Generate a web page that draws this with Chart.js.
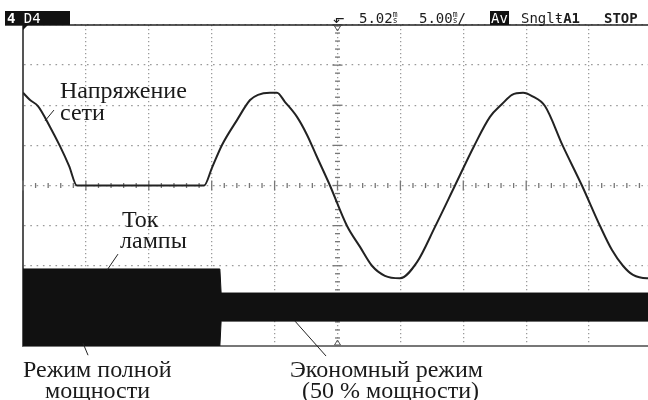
<!DOCTYPE html>
<html>
<head>
<meta charset="utf-8">
<script src="https://cdn.jsdelivr.net/npm/chart.js@4/dist/chart.umd.min.js"></script>
<style>
  html, body { margin: 0; padding: 0; background: #fff; overflow: hidden; }
  #wrap { position: relative; width: 660px; height: 400px; }
  #wrap canvas { position: absolute; left: 0; top: 0; }
  .hd { position: absolute; top: 11px; font-family: "DejaVu Sans Mono", monospace; font-size: 14px; line-height: 14px; color: #1c1c1c; white-space: nowrap; }
  .hd b { font-weight: bold; }
  .box { background: #111; color: #fff; padding: 0 2px; }
  .stk { display: inline-block; font-size: 8px; line-height: 6px; vertical-align: top; text-align: center; margin-top: 1px; }
  .note { position: absolute; font-family: "Liberation Serif", "Times New Roman", serif; font-size: 24px; line-height: 24px; color: #1a1a1a; white-space: nowrap; }
</style>
</head>
<body>
<div id="wrap">
  <canvas id="scope"></canvas>

  <div class="hd box" style="left:5px; width:61px; height:14px;"><b>4</b> D4</div>
  <div class="hd" style="left:333px;">&#x2B10;</div>
  <div class="hd" style="left:359px;">5.02<span class="stk">m<br>s</span></div>
  <div class="hd" style="left:419px;">5.00<span class="stk">m<br>s</span>/</div>
  <div class="hd box" style="left:490px; padding:0 1px;">Av</div>
  <div class="hd" style="left:521px;">Sngl&#x0167;<b>A1</b></div>
  <div class="hd" style="left:604px;"><b>STOP</b></div>

  <div class="note" style="left:60px; top:78px;">Напряжение</div>
  <div class="note" style="left:60px; top:100px;">сети</div>
  <div class="note" style="left:122px; top:207px;">Ток</div>
  <div class="note" style="left:120px; top:228px;">лампы</div>
  <div class="note" style="left:23px; top:357px;">Режим полной</div>
  <div class="note" style="left:45px; top:378px;">мощности</div>
  <div class="note" style="left:290px; top:357px;">Экономный режим</div>
  <div class="note" style="left:302px; top:378px;">(50 % мощности)</div>
</div>

<script>
// Осциллограмма: напряжение сети и ток лампы (5 мс/дел, 10 делений по X, 8 по Y).
const voltMs = [0, 0.56, 1.19, 2.15, 2.94, 3.66, 4.29, 14.39, 15.02, 15.82, 17.01, 18.05, 18.68, 19.63,
  20.19, 20.83, 21.78, 22.58, 23.37, 24.4, 25.76, 26.79, 27.74, 28.77, 29.97, 31.32, 32.75, 34.34,
  35.85, 37.12, 38.08, 38.87, 39.75, 40.46, 41.49, 42.92, 44.43, 45.87, 46.82, 47.69, 48.49, 49.6, 50];
const voltDiv = [2.31, 2.13, 1.98, 1.46, 0.98, 0.49, 0, 0, 0.44, 1.01, 1.63, 2.13, 2.26, 2.31,
  2.31, 2.08, 1.71, 1.26, 0.71, 0, -1.01, -1.53, -2.0, -2.25, -2.31, -1.91, -1.03, 0,
  0.98, 1.71, 2.03, 2.26, 2.31, 2.23, 1.98, 0.98, 0, -1.01, -1.61, -2.0, -2.23, -2.31, -2.31];

// Ток лампы: огибающая (полная мощность, затем экономный режим).
const currentMs = [0, 15.65, 15.75, 50];
const currentTop = [-2.08, -2.08, -2.68, -2.68];
const currentBottom = [-4, -4, -3.38, -3.38];

// Выноски подписей (в единицах осей).
const leaderMs = [[1.75, 2.46], [6.68, 7.55], [4.77, 5.17], [21.62, 24.09]];
const leaderDiv = [[1.61, 1.88], [-2.11, -1.71], [-3.93, -4.23], [-3.38, -4.25]];

function pairs(xs, ys) {
  return xs.map((x, i) => ({ x: x, y: ys[i] }));
}

const scopeDecor = {
  id: 'scopeDecor',
  beforeDatasetsDraw(chart) {
    const xs = chart.scales.x;
    const ys = chart.scales.y;
    const ctx = chart.ctx;
    const cx = xs.getPixelForValue(25);
    const cy = ys.getPixelForValue(0);

    ctx.save();
    ctx.strokeStyle = '#777';
    ctx.lineWidth = 1.3;

    // Метки на центральной вертикали
    for (let i = -20; i <= 20; i++) {
      const y = ys.getPixelForValue(i / 5);
      const h = i % 5 === 0 ? 5 : 2.5;
      ctx.beginPath();
      ctx.moveTo(cx - h, y);
      ctx.lineTo(cx + h, y);
      ctx.stroke();
    }

    // Метки на центральной горизонтали
    for (let i = 0; i <= 50; i++) {
      const x = xs.getPixelForValue(i);
      const h = i % 5 === 0 ? 5 : 2.5;
      ctx.beginPath();
      ctx.moveTo(x, cy - h);
      ctx.lineTo(x, cy + h);
      ctx.stroke();
    }

    // Верхняя линия экрана
    const top = chart.chartArea.top;
    ctx.strokeStyle = '#222';
    ctx.lineWidth = 1.5;
    ctx.beginPath();
    ctx.moveTo(5, top);
    ctx.lineTo(chart.width, top);
    ctx.stroke();

    // Маркеры триггера
    ctx.lineWidth = 1;
    ctx.strokeStyle = '#555';
    ctx.beginPath();
    ctx.moveTo(cx - 3, top + 1);
    ctx.lineTo(cx + 3, top + 1);
    ctx.lineTo(cx, top + 6);
    ctx.closePath();
    ctx.stroke();

    const bottom = chart.chartArea.bottom;
    ctx.beginPath();
    ctx.moveTo(cx - 3, bottom - 1);
    ctx.lineTo(cx + 3, bottom - 1);
    ctx.lineTo(cx, bottom - 6);
    ctx.closePath();
    ctx.stroke();

    const left = chart.chartArea.left;
    ctx.fillStyle = '#111';
    ctx.beginPath();
    ctx.moveTo(left, top);
    ctx.lineTo(left + 5, top);
    ctx.lineTo(left, top + 5);
    ctx.closePath();
    ctx.fill();

    ctx.restore();
  },
  afterDatasetsDraw(chart) {
    const xs = chart.scales.x;
    const ys = chart.scales.y;
    const ctx = chart.ctx;
    ctx.save();
    ctx.strokeStyle = '#222';
    ctx.lineWidth = 1;
    leaderMs.forEach((lx, i) => {
      const ly = leaderDiv[i];
      ctx.beginPath();
      ctx.moveTo(xs.getPixelForValue(lx[0]), ys.getPixelForValue(ly[0]));
      ctx.lineTo(xs.getPixelForValue(lx[1]), ys.getPixelForValue(ly[1]));
      ctx.stroke();
    });
    ctx.restore();
  }
};

const gridColor = '#9a9a9a';

new Chart(document.getElementById('scope'), {
  type: 'scatter',
  data: {
    datasets: [
      {
        data: pairs(currentMs, currentTop),
        showLine: true,
        borderColor: '#111',
        borderWidth: 1,
        backgroundColor: '#111',
        fill: '+1',
        pointRadius: 0,
        tension: 0
      },
      {
        data: pairs(currentMs, currentBottom),
        showLine: true,
        borderColor: '#111',
        borderWidth: 1,
        pointRadius: 0,
        tension: 0
      },
      {
        data: pairs(voltMs, voltDiv),
        showLine: true,
        borderColor: '#222',
        borderWidth: 2,
        pointRadius: 0,
        cubicInterpolationMode: 'monotone',
        fill: false
      }
    ]
  },
  options: {
    responsive: true,
    maintainAspectRatio: false,
    animation: false,
    layout: { padding: { left: 23, top: 25, right: 8, bottom: 54 } },
    plugins: {
      legend: { display: false },
      tooltip: { enabled: false }
    },
    scales: {
      x: {
        type: 'linear',
        min: 0,
        max: 50,
        ticks: { display: false, stepSize: 5 },
        grid: { color: gridColor, lineWidth: 1.3, drawTicks: false },
        border: { color: '#777', width: 2, dash: [1.3, 2.7] }
      },
      y: {
        min: -4,
        max: 4,
        ticks: { display: false, stepSize: 1 },
        grid: { color: gridColor, lineWidth: 1.3, drawTicks: false },
        border: { color: '#555', width: 2, dash: [1.6, 4.7] }
      }
    }
  },
  plugins: [scopeDecor]
});
</script>
</body>
</html>
